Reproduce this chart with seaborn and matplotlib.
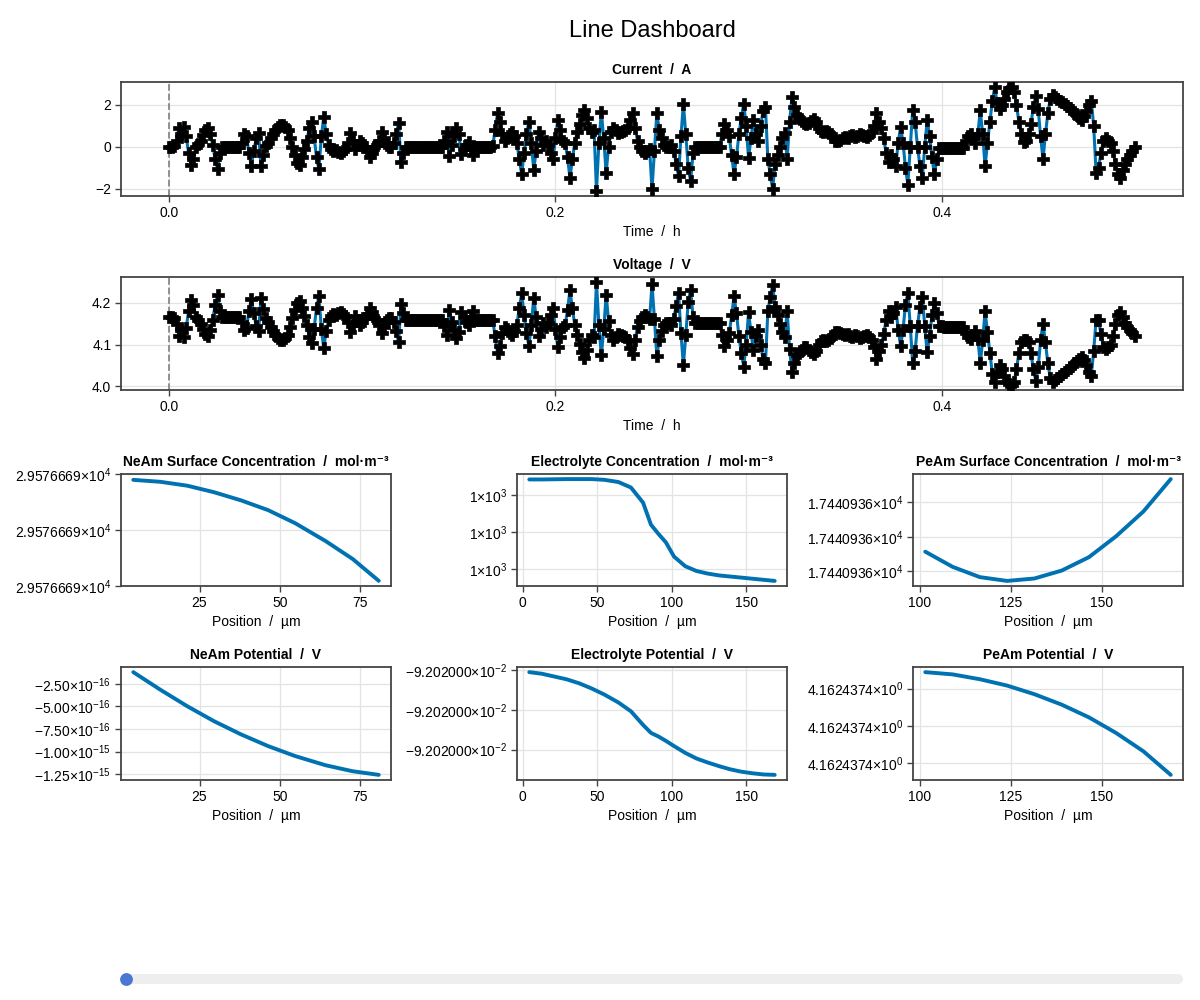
import numpy as np
import pandas as pd
import matplotlib
matplotlib.use("Agg")
import matplotlib.pyplot as plt
import seaborn as sns
from matplotlib.lines import Line2D

# ---------------- data ----------------
time_step_h = 0.00125
current_A = [
    0.0, 0.0, 0.02, 0.3, 0.9, 0.6, 0.95, 0.5, -0.3, -0.85,
    -0.6, 0.0, 0.15, 0.3, 0.55, 0.8, 0.9, 0.6, 0.1, -0.6,
    -1.05, -0.3, 0.0, 0.0, 0.0, 0.0, 0.0, 0.0, 0.0, 0.0,
    0.2, 0.6, 0.5, -0.3, -0.9, -0.2, 0.4, 0.65, -0.93, -0.4,
    0.05, 0.2, 0.4, 0.6, 0.8, 0.95, 1.03, 1.04, 0.95, 0.8,
    0.4, 0.0, -0.4, -0.75, -0.85, -0.5, -0.1, 0.3, 0.9, 1.2,
    0.5, -0.5, -1.08, 0.5, 1.43, 0.6, 0.1, -0.1, -0.2, -0.15,
    -0.25, -0.3, -0.2, -0.1, 0.2, 0.65, 0.3, -0.1, 0.1, 0.3,
    0.2, 0.0, -0.2, -0.5, -0.3, 0.0, 0.1, 0.3, 0.72, 0.4,
    0.1, 0.0, 0.0, 0.2, 0.6, 1.15, -0.7, -0.3, 0.0, 0.0,
    0.0, 0.0, 0.0, 0.0, 0.0, 0.0, 0.0, 0.0, 0.0, 0.0,
    0.0, 0.0, 0.0, 0.0, 0.3, 0.72, -0.45, 0.1, 0.5, 0.88,
    0.6, -0.35, -0.1, 0.1, 0.25, -0.1, -0.4, 0.0, 0.0, 0.0,
    0.0, 0.0, 0.0, 0.0, 0.05, 0.8, 1.6, 1.2, 0.6, 0.3,
    0.4, 0.6, 0.7, 0.5, 0.2, -0.6, -1.32, -0.3, 0.6, 1.2,
    0.2, -1.1, -0.2, 0.72, 0.4, 0.1, 0.3, 0.1, -0.3, -0.6,
    0.4, 1.28, 0.8, 0.3, 0.2, -0.5, -1.48, -0.6, 0.2, 0.7,
    1.1, 1.5, 1.78, 1.4, 0.9, 0.7, 0.8, -2.1, 0.2, 1.67,
    0.4, -1.25, 0.0, 0.7, 0.9, 0.8, 0.65, 0.7, 0.75, 0.8,
    0.9, 1.3, 1.6, 0.9, 0.3, 0.0, -0.2, -0.3, -0.2, -0.1,
    -2.03, -0.2, 1.6, 0.8, 0.4, 0.1, 0.0, 0.0, 0.1, -0.2,
    -0.8, -1.4, 0.5, 2.06, 0.6, -1.0, -1.64, -0.3, 0.0, 0.0,
    0.0, 0.0, 0.0, 0.0, 0.0, 0.0, 0.0, 0.0, 0.0, 0.6,
    1.1, 0.8, 0.5, -0.4, -1.32, -0.5, 0.6, 1.4, 2.06, 1.0,
    -0.54, 0.4, 1.28, 0.6, 0.3, 1.0, 1.7, 1.9, -0.6, -1.3,
    -2.03, -0.8, -0.4, 0.0, 0.4, 0.65, -0.6, 1.2, 2.38, 1.9,
    1.5, 1.4, 1.25, 1.15, 1.1, 1.15, 1.25, 1.35, 1.2, 0.9,
    0.75, 0.7, 0.75, 0.7, 0.6, 0.45, 0.3, 0.3, 0.35, 0.4,
    0.45, 0.4, 0.5, 0.55, 0.45, 0.5, 0.6, 0.55, 0.5, 0.45,
    0.55, 0.7, 1.0, 1.6, 1.2, 0.9, 0.4, -0.3, -0.7, -0.4,
    -0.6, -0.9, 0.2, 0.96, 0.2, -1.0, -1.8, 0.0, 1.75, 1.2,
    0.0, -0.9, -1.48, 0.0, 1.28, 0.5, -0.5, -1.32, -0.6, -0.05,
    -0.05, -0.05, -0.05, -0.05, -0.05, -0.05, -0.05, -0.05, -0.05, -0.05,
    0.3, 0.5, 0.6, 0.4, 0.2, 0.6, 1.75, 0.6, -0.93, 0.2,
    1.2, 2.2, 2.85, 2.1, 1.8, 2.0, 2.3, 2.6, 2.8, 2.85,
    2.6, 2.0, 1.2, 0.6, 0.25, 0.3, 0.6, 1.1, 1.9, 2.45,
    1.8, 0.5, -0.6, 0.6, 1.6, 2.3, 2.5, 2.4, 2.3, 2.2,
    2.15, 2.05, 1.95, 1.85, 1.75, 1.6, 1.5, 1.4, 1.3, 1.45,
    1.7, 2.0, 2.2, 1.0, -1.25, -1.0, -0.3, 0.3, 0.4, 0.3,
    0.2, -0.2, -0.8, -1.3, -1.48, -1.1, -0.8, -0.6, -0.4, -0.2,
    0.0,
]
voltage_V = [
    4.165, 4.165, 4.164, 4.150, 4.120, 4.135, 4.118, 4.140, 4.180, 4.208,
    4.195, 4.165, 4.158, 4.150, 4.138, 4.125, 4.120, 4.135, 4.160, 4.195,
    4.218, 4.180, 4.165, 4.165, 4.165, 4.165, 4.165, 4.165, 4.165, 4.165,
    4.155, 4.135, 4.140, 4.180, 4.210, 4.175, 4.145, 4.133, 4.212, 4.185,
    4.163, 4.153, 4.143, 4.133, 4.123, 4.116, 4.112, 4.111, 4.116, 4.123,
    4.143, 4.163, 4.183, 4.200, 4.205, 4.188, 4.168, 4.148, 4.118, 4.103,
    4.138, 4.188, 4.217, 4.138, 4.091, 4.133, 4.158, 4.168, 4.173, 4.170,
    4.175, 4.178, 4.173, 4.168, 4.153, 4.130, 4.148, 4.168, 4.158, 4.148,
    4.153, 4.163, 4.173, 4.188, 4.178, 4.163, 4.158, 4.148, 4.127, 4.143,
    4.158, 4.163, 4.163, 4.153, 4.133, 4.105, 4.198, 4.175, 4.160, 4.160,
    4.160, 4.160, 4.160, 4.160, 4.160, 4.160, 4.160, 4.160, 4.160, 4.160,
    4.160, 4.160, 4.160, 4.160, 4.145, 4.124, 4.183, 4.155, 4.135, 4.116,
    4.130, 4.178, 4.165, 4.155, 4.148, 4.165, 4.180, 4.160, 4.160, 4.160,
    4.160, 4.160, 4.160, 4.160, 4.158, 4.120, 4.080, 4.097, 4.127, 4.142,
    4.137, 4.127, 4.122, 4.132, 4.147, 4.187, 4.223, 4.172, 4.127, 4.097,
    4.147, 4.212, 4.167, 4.121, 4.137, 4.152, 4.142, 4.152, 4.172, 4.187,
    4.137, 4.093, 4.117, 4.142, 4.147, 4.182, 4.231, 4.187, 4.147, 4.122,
    4.102, 4.082, 4.068, 4.087, 4.112, 4.122, 4.117, 4.250, 4.147, 4.074,
    4.137, 4.220, 4.157, 4.122, 4.112, 4.117, 4.125, 4.122, 4.120, 4.117,
    4.112, 4.092, 4.077, 4.112, 4.142, 4.157, 4.167, 4.172, 4.167, 4.162,
    4.246, 4.162, 4.072, 4.112, 4.132, 4.147, 4.152, 4.152, 4.147, 4.162,
    4.192, 4.225, 4.127, 4.050, 4.122, 4.202, 4.232, 4.167, 4.152, 4.152,
    4.151, 4.151, 4.151, 4.151, 4.151, 4.151, 4.151, 4.151, 4.151, 4.122,
    4.097, 4.112, 4.127, 4.170, 4.216, 4.175, 4.120, 4.080, 4.047, 4.100,
    4.177, 4.130, 4.086, 4.120, 4.135, 4.100, 4.065, 4.055, 4.180, 4.215,
    4.243, 4.190, 4.170, 4.150, 4.130, 4.118, 4.180, 4.090, 4.033, 4.055,
    4.075, 4.080, 4.088, 4.093, 4.095, 4.088, 4.083, 4.078, 4.085, 4.100,
    4.108, 4.110, 4.108, 4.110, 4.115, 4.123, 4.130, 4.130, 4.128, 4.125,
    4.123, 4.125, 4.120, 4.118, 4.123, 4.120, 4.115, 4.118, 4.120, 4.123,
    4.118, 4.110, 4.095, 4.065, 4.085, 4.100, 4.125, 4.160, 4.180, 4.165,
    4.175, 4.190, 4.135, 4.097, 4.135, 4.195, 4.225, 4.145, 4.055, 4.085,
    4.145, 4.190, 4.215, 4.145, 4.081, 4.120, 4.170, 4.200, 4.175, 4.145,
    4.145, 4.143, 4.143, 4.143, 4.143, 4.143, 4.143, 4.143, 4.143, 4.143,
    4.128, 4.118, 4.113, 4.123, 4.133, 4.113, 4.055, 4.110, 4.180, 4.130,
    4.080, 4.030, 4.010, 4.035, 4.050, 4.040, 4.025, 4.010, 4.004, 4.003,
    4.010, 4.040, 4.080, 4.105, 4.110, 4.110, 4.105, 4.080, 4.040, 4.013,
    4.045, 4.110, 4.150, 4.105, 4.055, 4.020, 4.010, 4.015, 4.020, 4.025,
    4.028, 4.033, 4.038, 4.043, 4.048, 4.055, 4.060, 4.065, 4.070, 4.063,
    4.050, 4.035, 4.025, 4.085, 4.160, 4.160, 4.125, 4.095, 4.090, 4.095,
    4.100, 4.120, 4.150, 4.172, 4.178, 4.165, 4.152, 4.142, 4.135, 4.127,
    4.120,
]
time_h = np.round(np.arange(len(current_A)) * time_step_h, 5)

# positions (um)
neam_x_um = [4.4, 12.8, 21.2, 29.5, 37.9, 46.3, 54.7, 64.2, 72.6, 80.7]
sep_x_um = [86.0, 91.0, 96.0]
peam_x_um = [101.5, 109.0, 116.5, 124.0, 131.5, 139.0, 146.5, 154.0, 161.5, 169.0]
elyte_x_um = neam_x_um + sep_x_um + peam_x_um

# values in tick units (ticks at 0, 1, 2 share identical printed labels)
neam_surface_conc_rel = [1.90, 1.865, 1.795, 1.678, 1.532, 1.357, 1.123, 0.801, 0.480, 0.088]
neam_conc_ticklabel = "2.9576669×10$^{4}$"
elyte_conc_rel = [2.43, 2.43, 2.435, 2.44, 2.44, 2.44, 2.42, 2.36, 2.21, 1.80, 1.2, 0.95, 0.72,
                  0.33, 0.07, -0.06, -0.13, -0.18, -0.21, -0.24, -0.27, -0.30, -0.33]
elyte_conc_ticklabel = "1×10$^{3}$"
peam_surface_conc_rel = [0.57, 0.13, -0.17, -0.28, -0.21, 0.02, 0.41, 1.02, 1.74, 2.68]
peam_conc_ticklabel = "1.7440936×10$^{4}$"

neam_potential_e16 = [-1.22, -3.16, -4.99, -6.64, -8.10, -9.39, -10.49, -11.51, -12.17, -12.57]
neam_pot_ticks = [-2.5, -5.0, -7.5, -10.0, -12.5]
neam_pot_ticklabels = ["−2.50×10$^{-16}$", "−5.00×10$^{-16}$", "−7.50×10$^{-16}$",
                       "−1.00×10$^{-15}$", "−1.25×10$^{-15}$"]
elyte_potential_rel = [1.94, 1.90, 1.83, 1.76, 1.66, 1.53, 1.38, 1.18, 0.96, 0.62, 0.42, 0.33, 0.22,
                       0.09, -0.08, -0.22, -0.32, -0.41, -0.49, -0.55, -0.59, -0.62, -0.63]
elyte_pot_ticklabel = "−9.202000×10$^{-2}$"
peam_potential_rel = [2.44, 2.38, 2.25, 2.08, 1.85, 1.57, 1.23, 0.81, 0.32, -0.31]
peam_pot_ticklabel = "4.1624374×10$^{0}$"

# ---------------- style ----------------
sns.set_theme(style="white")
plt.rcParams["font.family"] = ["Liberation Sans", "DejaVu Sans"]
plt.rcParams["font.size"] = 10
plt.rcParams["axes.unicode_minus"] = True
plt.rcParams["mathtext.fontset"] = "custom"
plt.rcParams["mathtext.rm"] = "Liberation Sans"
plt.rcParams["mathtext.it"] = "Liberation Sans:italic"
plt.rcParams["mathtext.bf"] = "Liberation Sans:bold"
plt.rcParams["mathtext.default"] = "regular"
plt.rcParams["text.color"] = "black"
plt.rcParams["axes.labelcolor"] = "black"
plt.rcParams["xtick.labelcolor"] = "black"
plt.rcParams["ytick.labelcolor"] = "black"

BLUE = "#0072B2"
SPINE = "#444444"
GRID = "#e3e3e3"
W, H = 1200.0, 1000.0

fig = plt.figure(figsize=(12, 10), dpi=100)


def rect_px(left, top, right, bottom):
    return [left / W, 1 - bottom / H, (right - left) / W, (bottom - top) / H]


def style_ax(ax, title, xlabel):
    ax.set_title(title, fontweight="bold", fontsize=10, pad=6, color="black")
    ax.set_xlabel(xlabel, fontsize=10, labelpad=4, color="black")
    ax.set_ylabel("")
    ax.grid(True, color=GRID, linewidth=0.9)
    ax.set_axisbelow(True)
    for s in ax.spines.values():
        s.set_visible(True)
        s.set_color(SPINE)
        s.set_linewidth(1.3)
    ax.tick_params(axis="both", which="both", direction="out", length=4, width=1,
                   color=SPINE, labelcolor="black", labelsize=10, left=True, bottom=True, pad=3)


df_ts = pd.DataFrame({"time_h": time_h, "current_A": current_A, "voltage_V": voltage_V})

ts_specs = [
    (rect_px(121, 82, 1183, 196), "current_A", "Current  /  A", [-2, 0, 2], ["−2", "0", "2"]),
    (rect_px(121, 277, 1183, 390), "voltage_V", "Voltage  /  V", [4.0, 4.1, 4.2], ["4.0", "4.1", "4.2"]),
]
for rect, col, title, yt, ytl in ts_specs:
    ax = fig.add_axes(rect)
    ax.axvline(0, color="#888888", linestyle="--", linewidth=1.3, zorder=1)
    sns.lineplot(data=df_ts, x="time_h", y=col, ax=ax, color=BLUE, linewidth=2.2, zorder=2)
    sns.scatterplot(data=df_ts, x="time_h", y=col, ax=ax, color="black", marker="P",
                    s=64, linewidth=0.5, edgecolor="black", zorder=3)
    ax.set_xticks([0.0, 0.2, 0.4])
    ax.set_xticklabels(["0.0", "0.2", "0.4"])
    ax.set_yticks(yt)
    ax.set_yticklabels(ytl)
    style_ax(ax, title, "Time  /  h")

col_px = [(121, 391), (517, 787), (913, 1183)]
row_px = [(474, 586), (667, 780)]

panels = [
    (0, 0, neam_x_um, neam_surface_conc_rel, "NeAm Surface Concentration  /  mol·m⁻³",
     [0, 1, 2], [neam_conc_ticklabel] * 3, [25, 50, 75], (-0.005, 2.005)),
    (0, 1, elyte_x_um, elyte_conc_rel, "Electrolyte Concentration  /  mol·m⁻³",
     [0, 1, 2], [elyte_conc_ticklabel] * 3, [0, 50, 100, 150], None),
    (0, 2, peam_x_um, peam_surface_conc_rel, "PeAm Surface Concentration  /  mol·m⁻³",
     [0, 1, 2], [peam_conc_ticklabel] * 3, [100, 125, 150], None),
    (1, 0, neam_x_um, neam_potential_e16, "NeAm Potential  /  V",
     neam_pot_ticks, neam_pot_ticklabels, [25, 50, 75], None),
    (1, 1, elyte_x_um, elyte_potential_rel, "Electrolyte Potential  /  V",
     [0, 1, 2], [elyte_pot_ticklabel] * 3, [0, 50, 100, 150], None),
    (1, 2, peam_x_um, peam_potential_rel, "PeAm Potential  /  V",
     [0, 1, 2], [peam_pot_ticklabel] * 3, [100, 125, 150], None),
]
for r, c, xs, ys, title, yt, ytl, xt, ylim in panels:
    top, bottom = row_px[r]
    left, right = col_px[c]
    ax = fig.add_axes(rect_px(left, top, right, bottom))
    dfp = pd.DataFrame({"x": xs, "y": ys})
    sns.lineplot(data=dfp, x="x", y="y", ax=ax, color=BLUE, linewidth=2.8)
    ax.set_xticks(xt)
    ax.set_xticklabels([str(v) for v in xt])
    ax.set_yticks(yt)
    ax.set_yticklabels(ytl)
    if ylim is not None:
        ax.set_ylim(*ylim)
    style_ax(ax, title, "Position  /  µm")

fig.text(652 / W, 1 - 31 / H, "Line Dashboard", ha="center", va="center", fontsize=17, color="black")

# slider decoration
fig.add_artist(Line2D([126 / W, 1178 / W], [1 - 979 / H, 1 - 979 / H], transform=fig.transFigure,
                      color="#eeeeee", linewidth=7.2, solid_capstyle="round"))
fig.add_artist(Line2D([125.7 / W], [1 - 979 / H], transform=fig.transFigure, marker="o",
                      markersize=8.2, color="#4a76d4", linestyle="none"))

fig.savefig("out.png", dpi=100)
